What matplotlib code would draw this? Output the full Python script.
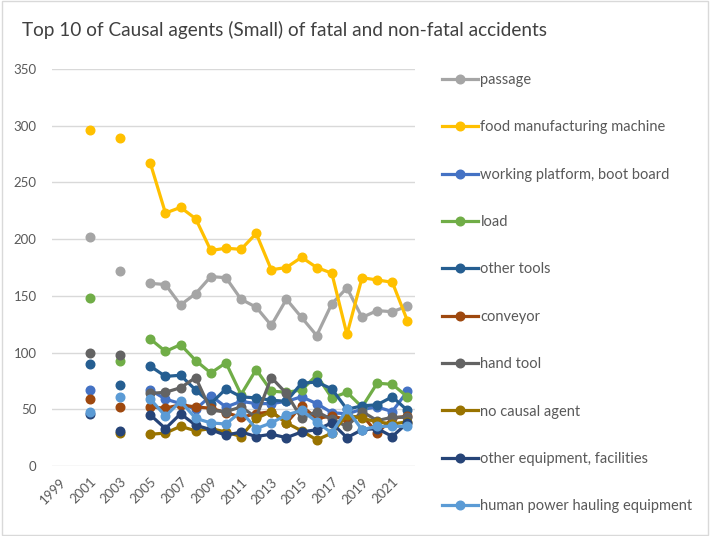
import matplotlib.pyplot as plt
import numpy as np
from matplotlib.patches import Rectangle

nan = np.nan

# category axis 1999..2022
years = list(range(1999, 2023))
tick_labels = [str(y) for y in range(1999, 2022, 2)]

series_names = [
    "passage",
    "food manufacturing machine",
    "working platform, boot board",
    "load",
    "other tools",
    "conveyor",
    "hand tool",
    "no causal agent",
    "other equipment, facilities",
    "human power hauling equipment",
]

passage = [nan, nan, 202, nan, 172, nan, 161, 160, 142, 152, 167, 166, 147, 140, 124, 147, 131, 115, 143, 157, 131, 137, 136, 141]
food_machine = [nan, nan, 296, nan, 289, nan, 267, 223, 228, 218, 190, 192, 191, 205, 173, 175, 184, 175, 170, 116, 166, 164, 162, 128]
working_platform = [nan, nan, 67, nan, nan, nan, 67, 59, 55, 50, 62, 52, 57, 55, 55, 57, 61, 55, 47, 46, 50, 52, 48, 66]
load = [nan, nan, 148, nan, 93, nan, 112, 101, 107, 93, 82, 91, 63, 85, 66, 65, 67, 80, 60, 65, 52, 73, 72, 61]
other_tools = [nan, nan, 90, nan, 71, nan, 88, 79, 80, 67, 55, 68, 61, 60, 58, 57, 73, 74, 68, 50, 53, 54, 61, 49]
conveyor = [nan, nan, 59, nan, 52, nan, 52, 51, 54, 52, 51, 47, 43, 46, 48, 38, 53, 42, 44, 41, 45, 29, 42, 44]
hand_tool = [nan, nan, 100, nan, 98, nan, 64, 65, 69, 78, 49, 48, 52, 43, 78, 64, 42, 48, 41, 35, 48, 40, 43, 43]
no_agent = [nan, nan, nan, nan, 29, nan, 28, 29, 35, 31, 33, 30, 26, 42, 48, 38, 31, 23, 29, 45, 42, 39, 37, 39]
other_equipment = [nan, nan, 46, nan, 31, nan, 45, 33, 46, 36, 32, 27, 30, 26, 28, 25, 30, 32, 38, 25, 32, 33, 26, 38]
human_power = [nan, nan, 48, nan, 61, nan, 59, 44, 57, 42, 38, 37, 48, 33, 38, 45, 49, 39, 29, 50, 32, 35, 35, 35]

all_series = [passage, food_machine, working_platform, load, other_tools,
              conveyor, hand_tool, no_agent, other_equipment, human_power]
colors = ["#A5A5A5", "#FFC000", "#4472C4", "#70AD47", "#255E91",
          "#9E480E", "#636363", "#997300", "#264478", "#5B9BD5"]

plt.rcParams["font.family"] = ["Lato", "DejaVu Sans"]

fig = plt.figure(figsize=(7.10, 5.36), dpi=100)
ax = fig.add_axes([52 / 710, 70 / 536, 363 / 710, 397 / 536])

x = np.arange(len(years))
for name, vals, c in zip(series_names, all_series, colors):
    ax.plot(x, vals, color=c, lw=2.3, marker="o", markersize=6.2, label=name)

ax.set_xlim(-0.5, len(years) - 0.5)
ax.set_ylim(0, 350)
ax.set_yticks(range(0, 351, 50))
ax.set_xticks(x[::2])
ax.set_xticklabels(tick_labels, rotation=45, ha="right", rotation_mode="anchor")
ax.tick_params(axis="both", length=0, colors="#595959", labelsize=9.5)
ax.tick_params(axis="y", pad=11)
ax.tick_params(axis="x", pad=7)
ax.grid(axis="y", color="#D9D9D9", lw=1)
ax.set_axisbelow(True)
for s in ax.spines.values():
    s.set_visible(False)

fig.text(22 / 710, 1 - 30 / 536, "Top 10 of Causal agents (Small) of fatal and non-fatal accidents",
         fontsize=13.7, color="#404040", va="center", ha="left")

fig.legend(loc="upper left", bbox_to_anchor=(436 / 710, 1 - 67 / 536), frameon=False,
           fontsize=10.5, labelcolor="#595959", handlelength=2.5, handletextpad=0.15,
           labelspacing=2.29, borderaxespad=0)

fig.add_artist(Rectangle((2 / 710, 1 / 536), 706 / 710, 534 / 536, transform=fig.transFigure,
                         fill=False, edgecolor="#D9D9D9", lw=1))

fig.savefig("out.png", dpi=100)
